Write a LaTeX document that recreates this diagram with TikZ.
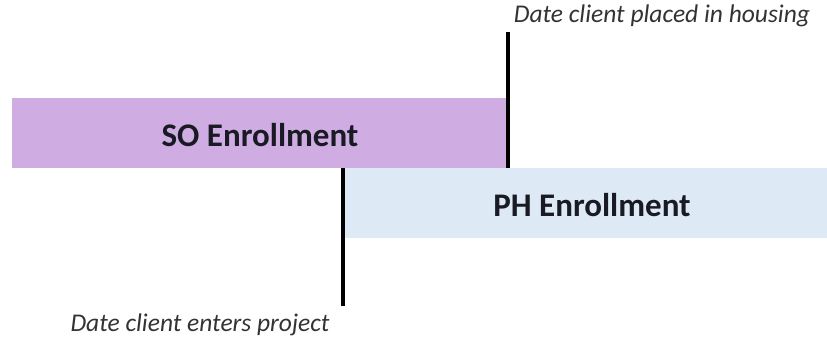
\documentclass[tikz,border=0pt]{standalone}
\usepackage{fontspec}
\setmainfont{Carlito}
\definecolor{sofill}{HTML}{CFADE3}
\definecolor{phfill}{HTML}{DDEAF5}
\definecolor{labelgray}{HTML}{333333}
\definecolor{boxtext}{HTML}{1A1A24}
\begin{document}
\begin{tikzpicture}[x=1pt,y=-1pt,
  bar/.style={draw=none,inner sep=0pt,anchor=north west,font=\fontsize{33}{39}\selectfont\bfseries,text=boxtext},
  datelabel/.style={inner sep=0pt,font=\fontsize{25.5}{30}\selectfont\itshape,text=labelgray},
  marker/.style={line width=3.2pt,black}]
\useasboundingbox (0,0) rectangle (827,338);
\node[bar,fill=sofill,minimum width=496pt,minimum height=70pt] (so) at (12,98) {};
\node[bar,fill=phfill,minimum width=482pt,minimum height=70pt] (ph) at (345,168) {};
\node[bar,anchor=center] (sotext) at (260,135) {SO Enrollment};
\node[bar,anchor=center] (phtext) at (592,205) {PH Enrollment};
\coordinate (toptop) at (508,32);
\coordinate (botbot) at (343,306);
\coordinate (topbase) at (508,168);
\coordinate (bottop) at (343,168);
\draw[marker] (toptop) -- (topbase);
\draw[marker] (bottop) -- (botbot);
\node[datelabel] (placed) at (662,16) {Date client placed in housing};
\node[datelabel] (enters) at (200,325) {Date client enters project};
\end{tikzpicture}
\end{document}
